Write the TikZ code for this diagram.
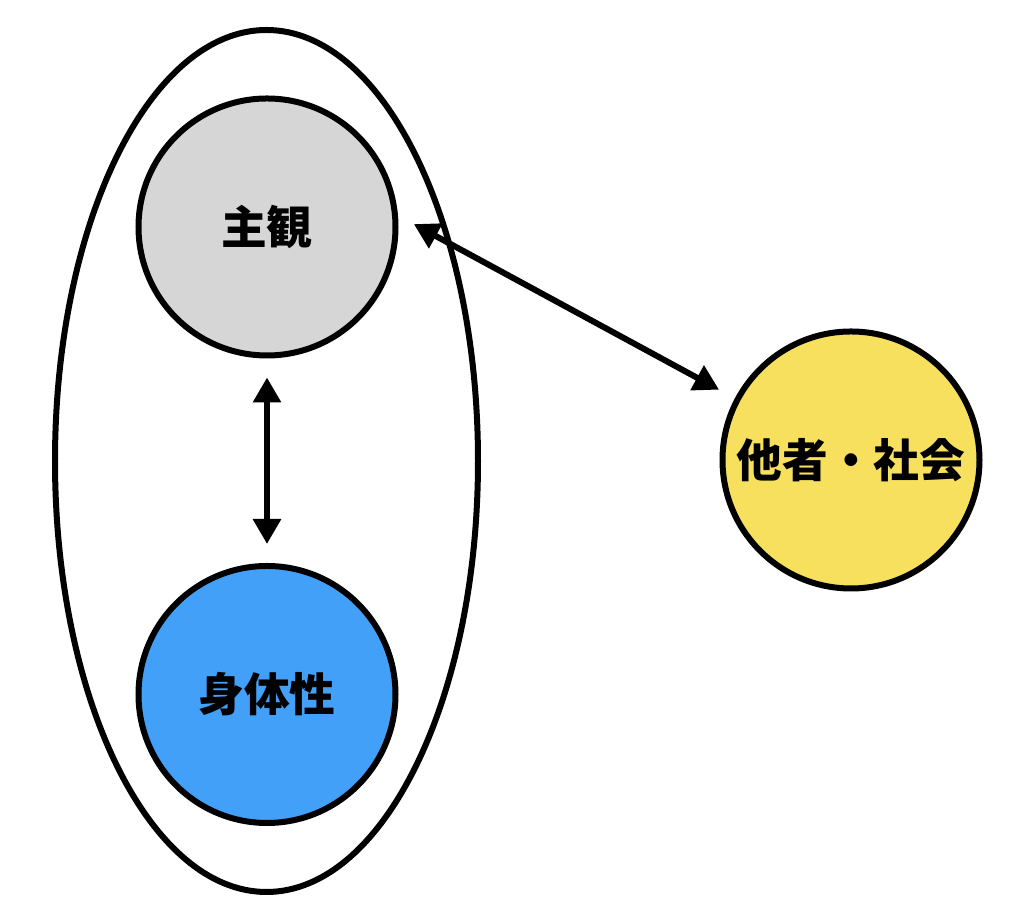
\documentclass[tikz,border=0pt]{standalone}
\usepackage{fontspec}
\usepackage{xcolor}
\usepackage{tikz}
\usetikzlibrary{arrows.meta,shapes,positioning}
\newfontfamily\jpfont{Noto Sans CJK JP}
\definecolor{grayshu}{RGB}{214,214,214}
\definecolor{bluesin}{RGB}{66,160,248}
\definecolor{yellowsha}{RGB}{246,224,94}

\begin{document}
\begin{tikzpicture}[
  mynodegr/.style={draw,circle,line width=0.06cm,minimum size=2.57cm,inner sep=0pt,fill=grayshu,align=center,font=\jpfont\bfseries\fontsize{13pt}{15pt}\selectfont},
  mynodebl/.style={draw,circle,line width=0.06cm,minimum size=2.57cm,inner sep=0pt,fill=bluesin,align=center,font=\jpfont\bfseries\fontsize{13pt}{15pt}\selectfont},
  mynodeye/.style={draw,circle,line width=0.06cm,minimum size=2.57cm,inner sep=0pt,fill=yellowsha,align=center,font=\jpfont\bfseries\fontsize{13pt}{15pt}\selectfont},
  dblarrow/.style={line width=0.06cm,{Triangle[width=0.27cm,length=0.25cm]}-{Triangle[width=0.27cm,length=0.25cm]}}
]
\useasboundingbox (0,0) rectangle (10.24,9.21);

\draw[line width=0.06cm] (2.665,4.60) ellipse (2.115 and 4.31);

\node[mynodegr] at (2.67,6.94) (S) {主観};
\node[mynodebl, below = 2.045 cm of S] (K) {身体性};
\node[mynodeye] at (8.51,4.61) (T) {他者・社会};

\path
(S) edge [dblarrow, shorten <=0.19cm, shorten >=0.19cm] (K)
(S.5) edge [dblarrow, shorten <=0.18cm, shorten >=0.18cm] (T.152);

\end{tikzpicture}
\end{document}
